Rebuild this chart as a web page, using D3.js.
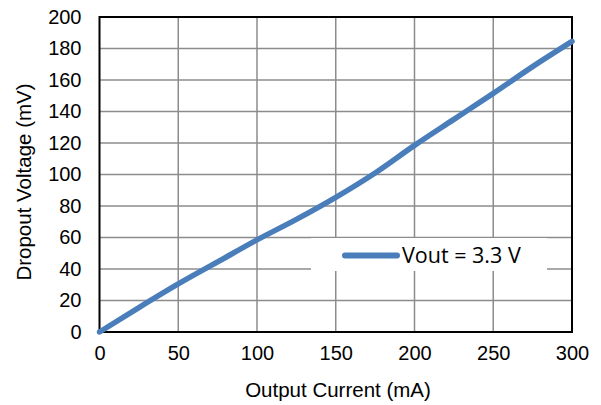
<!DOCTYPE html>
<html>
<head>
<meta charset="utf-8">
<script src="https://cdn.jsdelivr.net/npm/d3@7/dist/d3.min.js"></script>
<style>
  html, body { margin: 0; padding: 0; background: #fff; }
  svg { display: block; }
</style>
</head>
<body>
<script>
// Dropout voltage vs. output current
const currentMA = [0, 25, 50, 75, 100, 125, 150, 175, 200, 225, 250, 275, 300];
const dropoutMV = [0, 15.5, 30.5, 44.5, 58.5, 71.5, 85.5, 101, 118.5, 135, 151.5, 168.5, 184.5];
const xTicks = [0, 50, 100, 150, 200, 250, 300];
const yTicks = [0, 20, 40, 60, 80, 100, 120, 140, 160, 180, 200];
const seriesName = "Vout = 3.3 V";

const W = 601, H = 405;
const plot = { left: 99.5, right: 572, top: 17, bottom: 332 };

const svg = d3.select("body").append("svg").attr("width", W).attr("height", H);

const x = d3.scaleLinear().domain([0, 300]).range([plot.left, plot.right]);
const y = d3.scaleLinear().domain([0, 200]).range([plot.bottom, plot.top]);

// grid
const grid = svg.append("g").attr("stroke", "#8c8c8c").attr("stroke-width", 1.5);
grid.selectAll("line.v").data(xTicks.slice(1, -1)).join("line")
  .attr("x1", d => x(d)).attr("x2", d => x(d))
  .attr("y1", plot.top).attr("y2", plot.bottom);
grid.selectAll("line.h").data(yTicks.slice(1, -1)).join("line")
  .attr("x1", plot.left).attr("x2", plot.right)
  .attr("y1", d => y(d)).attr("y2", d => y(d));

// frame
svg.append("rect")
  .attr("x", plot.left).attr("y", plot.top)
  .attr("width", plot.right - plot.left).attr("height", plot.bottom - plot.top)
  .attr("fill", "none").attr("stroke", "#000").attr("stroke-width", 2);

// axes (labels only)
const font = "'Liberation Sans', Arial, sans-serif";
const yAxis = svg.append("g")
  .attr("transform", `translate(${plot.left},0)`)
  .call(d3.axisLeft(y).tickValues(yTicks).tickSize(0).tickPadding(18));
yAxis.select(".domain").remove();
yAxis.selectAll("text").attr("font-family", font).attr("font-size", 20).attr("fill", "#000");

const xAxis = svg.append("g")
  .attr("transform", `translate(0,${plot.bottom})`)
  .call(d3.axisBottom(x).tickValues(xTicks).tickSize(0).tickPadding(14));
xAxis.select(".domain").remove();
xAxis.selectAll("text").attr("font-family", font).attr("font-size", 20).attr("fill", "#000");

// series
const line = d3.line().x((d, i) => x(currentMA[i])).y(d => y(d)).curve(d3.curveMonotoneX);
svg.append("path").datum(dropoutMV)
  .attr("d", line)
  .attr("fill", "none").attr("stroke", "#4a7ebb").attr("stroke-width", 5.5)
  .attr("stroke-linecap", "round").attr("stroke-linejoin", "round");

// legend
const lg = svg.append("g");
lg.append("rect").attr("x", 311).attr("y", 238).attr("width", 236).attr("height", 33).attr("fill", "#fff");
lg.append("line").attr("x1", 345).attr("x2", 397).attr("y1", 255.5).attr("y2", 255.5)
  .attr("stroke", "#4a7ebb").attr("stroke-width", 6).attr("stroke-linecap", "round");
lg.append("text").attr("x", 402).attr("y", 263).text(seriesName)
  .attr("font-family", "'Open Sans', 'Noto Sans', sans-serif").attr("font-size", 21.5).attr("fill", "#000");

// axis titles
svg.append("text").attr("x", 338).attr("y", 397)
  .attr("text-anchor", "middle").attr("font-family", font).attr("font-size", 20.5)
  .text("Output Current (mA)");
svg.append("text")
  .attr("transform", `translate(30.5,182) rotate(-90)`)
  .attr("text-anchor", "middle").attr("font-family", font).attr("font-size", 20.5)
  .text("Dropout Voltage (mV)");
</script>
</body>
</html>
